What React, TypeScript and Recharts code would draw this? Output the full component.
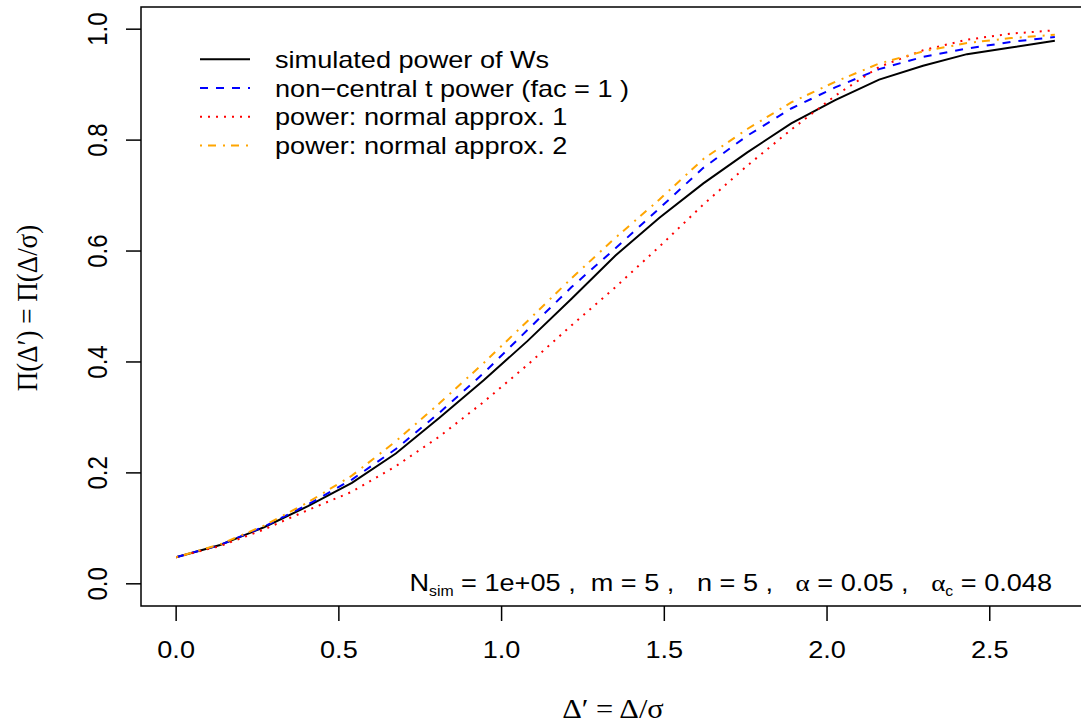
import React from 'react';
import { LineChart, Line, XAxis, YAxis, ReferenceArea } from 'recharts';

const deltaValues = [0, 0.135, 0.27, 0.405, 0.54, 0.675, 0.81, 0.945, 1.08, 1.215, 1.35, 1.485, 1.62, 1.755, 1.89, 2.025, 2.16, 2.295, 2.43, 2.565, 2.7];
const simulatedPower = [0.048, 0.070, 0.102, 0.140, 0.182, 0.235, 0.300, 0.367, 0.438, 0.514, 0.592, 0.660, 0.722, 0.778, 0.830, 0.872, 0.909, 0.934, 0.955, 0.967, 0.979];
const nctPower = [0.048, 0.070, 0.103, 0.143, 0.188, 0.243, 0.309, 0.380, 0.458, 0.535, 0.605, 0.677, 0.750, 0.808, 0.857, 0.895, 0.928, 0.950, 0.965, 0.977, 0.986];
const normalApprox1 = [0.048, 0.068, 0.098, 0.133, 0.166, 0.212, 0.266, 0.328, 0.395, 0.466, 0.535, 0.608, 0.684, 0.754, 0.819, 0.880, 0.932, 0.962, 0.981, 0.992, 0.998];
const normalApprox2 = [0.048, 0.071, 0.105, 0.147, 0.195, 0.257, 0.326, 0.398, 0.474, 0.551, 0.624, 0.693, 0.766, 0.820, 0.868, 0.905, 0.938, 0.960, 0.975, 0.984, 0.990];

const xTickValues = [0, 0.5, 1, 1.5, 2, 2.5];
const yTickValues = [0, 0.2, 0.4, 0.6, 0.8, 1];
const xDomain = [-0.108, 2.808];
const yDomain = [-0.04, 1.04];

const legendLabels = [
  'simulated power of Ws',
  'non\u2212central t power (fac = 1 )',
  'power: normal approx. 1',
  'power: normal approx. 2',
];
const seriesKeys = ['sim', 'nct', 'n1', 'n2'];
const seriesColors = ['#000000', '#0000FF', '#FF0000', '#FFA500'];
const seriesDashes = ['', '8 8', '2 6', '2 6 8 7'];

const data = deltaValues.map((x, i) => ({
  x,
  sim: simulatedPower[i],
  nct: nctPower[i],
  n1: normalApprox1[i],
  n2: normalApprox2[i],
}));

const SANS = '"Liberation Sans", Arial, sans-serif';
const SERIF = '"Liberation Serif", "DejaVu Serif", serif';
const FS = 24;
const TFS = 27;
const SX = 1.13;

const XTick = (props: any) => {
  const { x, y, payload } = props;
  return (
    <g transform={`translate(${x},${y + 37}) scale(${SX},1)`}>
      <text x={0} y={0} textAnchor="middle" fontFamily={SANS} fontSize={FS} fill="#000">
        {Number(payload.value).toFixed(1)}
      </text>
    </g>
  );
};

const YTick = (props: any) => {
  const { x, y, payload } = props;
  return (
    <g transform={`translate(${x - 19},${y}) scale(${SX},1) rotate(-90)`}>
      <text x={0} y={0} textAnchor="middle" fontFamily={SANS} fontSize={FS} fill="#000">
        {Number(payload.value).toFixed(1)}
      </text>
    </g>
  );
};

const Overlay = () => {
  const rowY0 = 59.3;
  const rowStep = 28.7;
  return (
    <svg width={1081} height={727} style={{ position: 'absolute', left: 0, top: 0, pointerEvents: 'none' }}>
      {legendLabels.map((label, i) => {
        const cy = rowY0 + i * rowStep;
        return (
          <g key={label}>
            <line x1={200} x2={250} y1={cy} y2={cy} stroke={seriesColors[i]} strokeWidth={2}
              strokeDasharray={seriesDashes[i] || undefined} />
            <g transform={`translate(275,${cy + 8.5}) scale(${SX},1)`}>
              <text x={0} y={0} fontFamily={SANS} fontSize={FS} fill="#000">{label}</text>
            </g>
          </g>
        );
      })}
      <g transform={`translate(1052,591) scale(${SX},1)`}>
        <text x={0} y={0} textAnchor="end" fontFamily={SANS} fontSize={FS} fill="#000" style={{ whiteSpace: 'pre' }}>
          <tspan>N</tspan>
          <tspan fontSize={14} dy={5}>sim</tspan>
          <tspan dy={-5}>{' = 1e+05 ,  m = 5 ,   n = 5 ,   '}</tspan>
          <tspan fontFamily={SERIF}>{'\u03B1'}</tspan>
          <tspan>{' = 0.05 ,   '}</tspan>
          <tspan fontFamily={SERIF}>{'\u03B1'}</tspan>
          <tspan fontSize={14} dy={5}>c</tspan>
          <tspan dy={-5}>{' = 0.048'}</tspan>
        </text>
      </g>
      <g transform={`translate(613,718) scale(${SX},1)`}>
        <text x={0} y={0} textAnchor="middle" fontFamily={SERIF} fontSize={TFS} fill="#000" style={{ whiteSpace: 'pre' }}>
          {'\u0394\u2032 = \u0394/\u03C3'}
        </text>
      </g>
      <g transform={`translate(37,308) scale(${SX},1) rotate(-90)`}>
        <text x={0} y={0} textAnchor="middle" fontFamily={SERIF} fontSize={TFS} fill="#000" style={{ whiteSpace: 'pre' }}>
          {'\u03A0(\u0394\u2032) = \u03A0(\u0394/\u03C3)'}
        </text>
      </g>
    </svg>
  );
};

export default function App() {
  return (
    <div style={{ position: 'absolute', left: 0, top: 0, width: 1081, height: 727, overflow: 'hidden', background: '#fff' }}>
      <LineChart width={1100} height={727} data={data} margin={{ top: 7, right: 10, bottom: 0, left: 0 }}>
        <XAxis dataKey="x" type="number" domain={xDomain} ticks={xTickValues} allowDataOverflow
          height={121} axisLine={false} tickLine={{ stroke: '#000', strokeWidth: 1.5 }} tickSize={15} tickMargin={0}
          tick={<XTick />} interval={0} />
        <YAxis type="number" domain={yDomain} ticks={yTickValues} allowDataOverflow
          width={141} axisLine={false} tickLine={{ stroke: '#000', strokeWidth: 1.5 }} tickSize={15} tickMargin={0}
          tick={<YTick />} interval={0} />
        <ReferenceArea x1={xDomain[0]} x2={xDomain[1]} y1={yDomain[0]} y2={yDomain[1]} fill="none" fillOpacity={0}
          stroke="#000" strokeWidth={1.5} ifOverflow="visible" />
        {seriesKeys.map((k, i) => (
          <Line key={k} type="linear" dataKey={k} stroke={seriesColors[i]} strokeWidth={2}
            strokeDasharray={seriesDashes[i] || undefined} dot={false} activeDot={false}
            isAnimationActive={false} />
        ))}
      </LineChart>
      <Overlay />
    </div>
  );
}
